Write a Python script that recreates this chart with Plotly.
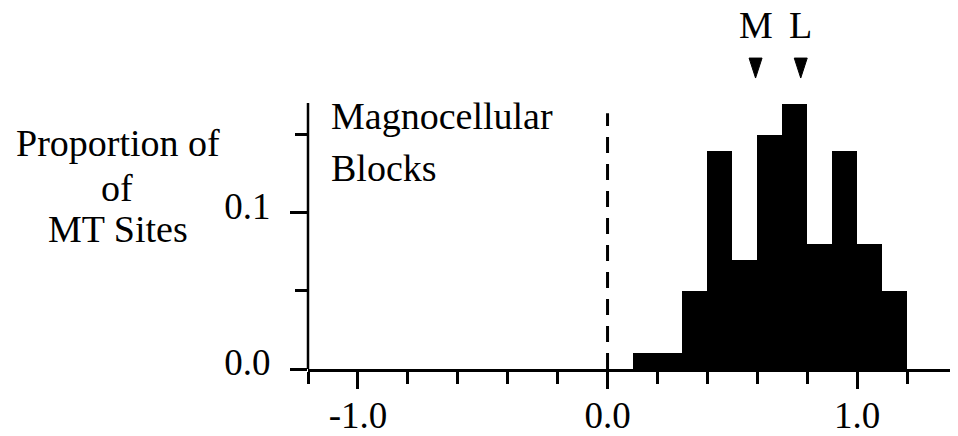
import plotly.graph_objects as go

# ---- data ----
bin_left = [0.1, 0.2, 0.3, 0.4, 0.5, 0.6, 0.7, 0.8, 0.9, 1.0, 1.1]
proportion = [0.01, 0.01, 0.05, 0.14, 0.07, 0.15, 0.17, 0.08, 0.14, 0.08, 0.05]
bin_width = 0.1

marker_labels = ["M", "L"]
marker_x = [0.593, 0.774]

x_tickvals = [-1.0, 0.0, 1.0]
x_ticktext = ["-1.0", "0.0", "1.0"]
x_minor = [-1.2, -0.8, -0.6, -0.4, -0.2, 0.2, 0.4, 0.6, 0.8, 1.2, 1.4]
y_tickvals = [0.0, 0.1]
y_ticktext = ["0.0", "0.1"]
y_minor = [0.05, 0.15]
y_axis_top = 0.1705

ytitle_lines = ["Proportion of", "of", "MT Sites"]
panel_lines = ["Magnocellular", "Blocks"]

FONT = "Liberation Serif, Times New Roman, serif"
TICK_FS = 37
TEXT_FS = 38

# layout geometry (pixels)
W, H = 950, 428
ML, MR, MT, MB = 300, 1, 0, 67
PX_PER_UNIT = 266 / y_axis_top
y_view_max = (H - MT - MB) / PX_PER_UNIT

bin_centers = [b + bin_width / 2 for b in bin_left]

fig = go.Figure()
fig.add_trace(go.Bar(
    x=bin_centers, y=proportion, width=bin_width,
    marker=dict(color="black", line=dict(width=0)),
    showlegend=False, hoverinfo="skip",
))
fig.add_trace(go.Scatter(
    x=marker_x, y=[0.1865] * len(marker_x), mode="markers",
    marker=dict(symbol="arrow", angle=180, size=21, color="black",
                line=dict(width=1, color="black")),
    cliponaxis=False, showlegend=False, hoverinfo="skip",
))

# y axis line (only up to the top of the data scale)
fig.add_shape(type="line", x0=0, x1=0, y0=0, y1=y_axis_top, xref="paper", yref="y",
              line=dict(color="black", width=2.5))
# dashed line at zero
fig.add_shape(type="line", x0=0, x1=0, y0=0, y1=0.164, xref="x", yref="y",
              line=dict(color="black", width=3, dash="16px,11px"))

for lab, xv in zip(marker_labels, marker_x):
    fig.add_annotation(x=xv, y=0.2205, xref="x", yref="y", text=lab,
                       showarrow=False, xanchor="center", yanchor="middle",
                       font=dict(family=FONT, size=TEXT_FS, color="black"))

for line, yv in zip(panel_lines, [0.16186, 0.12885]):
    fig.add_annotation(x=-1.116, y=yv, xref="x", yref="y", text=line,
                       showarrow=False, xanchor="left", yanchor="middle",
                       font=dict(family=FONT, size=TEXT_FS, color="black"))

for line, xp, yv in zip(ytitle_lines, [-0.292, -0.2943, -0.2935],
                        [0.14455, 0.11603, 0.08974]):
    fig.add_annotation(x=xp, y=yv, xref="paper", yref="y", text=line,
                       showarrow=False, xanchor="center", yanchor="middle",
                       font=dict(family=FONT, size=TEXT_FS, color="black"))

fig.update_layout(
    width=W, height=H,
    margin=dict(l=ML, r=MR, t=MT, b=MB, pad=0),
    paper_bgcolor="white", plot_bgcolor="white",
    bargap=0,
    font=dict(family=FONT, size=TICK_FS, color="black"),
    xaxis=dict(
        range=[-1.2, 1.4], showgrid=False, zeroline=False,
        showline=True, linecolor="black", linewidth=2.5,
        tickmode="array", tickvals=x_tickvals, ticktext=x_ticktext,
        ticks="outside", ticklen=17, tickwidth=2.5, tickcolor="black",
        ticklabelstandoff=-5,
        tickfont=dict(family=FONT, size=TICK_FS, color="black"),
        minor=dict(tickvals=x_minor, ticks="outside", ticklen=12,
                   tickwidth=2.5, tickcolor="black", showgrid=False),
    ),
    yaxis=dict(
        range=[0, y_view_max], showgrid=False, zeroline=False,
        showline=False,
        tickmode="array", tickvals=y_tickvals, ticktext=y_ticktext,
        ticks="outside", ticklen=17, tickwidth=2.5, tickcolor="black",
        ticklabelstandoff=12, ticklabelshift=-7,
        tickfont=dict(family=FONT, size=TICK_FS, color="black"),
        minor=dict(tickvals=y_minor, ticks="outside", ticklen=12,
                   tickwidth=2.5, tickcolor="black", showgrid=False),
    ),
)

fig.write_html("out.html")
